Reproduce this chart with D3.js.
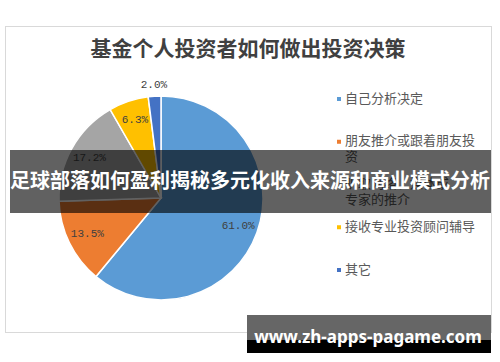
<!DOCTYPE html>
<html>
<head>
<meta charset="utf-8">
<script src="https://cdn.jsdelivr.net/npm/d3@7"></script>
<style>
  body { margin: 0; background: #fff; }
  svg { display: block; }
</style>
</head>
<body>
<div id="chart"></div>
<script>
const categories = [
  "自己分析决定",
  "朋友推介或跟着朋友投资",
  "听取网络、媒体或专家的推介",
  "接收专业投资顾问辅导",
  "其它",
];
const values = [61.0, 13.5, 17.2, 6.3, 2.0];
const valueLabels = ["61.0%", "13.5%", "17.2%", "6.3%", "2.0%"];
const legendLines = [
  ["自己分析决定"],
  ["朋友推介或跟着朋友投", "资"],
  ["听取网络、媒体或", "专家的推介"],
  ["接收专业投资顾问辅导"],
  ["其它"],
];
const colors = ["#5b9bd5", "#ed7d31", "#a5a5a5", "#ffc000", "#4472c4"];

const title = "基金个人投资者如何做出投资决策";
const bannerText = "足球部落如何盈利揭秘多元化收入来源和商业模式分析";
const watermark = "www.zh-apps-pagame.com";

const width = 500;
const height = 362;
const cx = 161;
const cy = 198;
const radius = 102;

const svg = d3
  .select("#chart")
  .append("svg")
  .attr("width", width)
  .attr("height", height);

// chart frame
svg
  .append("rect")
  .attr("x", 5.5)
  .attr("y", 26.5)
  .attr("width", 486)
  .attr("height", 306)
  .attr("fill", "#fff")
  .attr("stroke", "#d9d9d9");

svg
  .append("text")
  .attr("x", 248)
  .attr("y", 50)
  .attr("text-anchor", "middle")
  .attr("dominant-baseline", "middle")
  .attr("font-family", "'Noto Sans CJK SC', sans-serif")
  .attr("font-weight", "bold")
  .attr("font-size", 21)
  .attr("fill", "#404040")
  .text(title);

const pie = d3
  .pie()
  .sort(null)
  .value((d) => d);

const arcs = pie(values);

const arc = d3.arc().innerRadius(0).outerRadius(radius);
const labelArc = d3.arc().innerRadius(82).outerRadius(82);
const outerLabelArc = d3.arc().innerRadius(113).outerRadius(113);

const pieG = svg.append("g").attr("transform", `translate(${cx},${cy})`);

pieG
  .selectAll("path")
  .data(arcs)
  .join("path")
  .attr("d", arc)
  .attr("fill", (d, i) => colors[i])
  .attr("stroke", "#fff")
  .attr("stroke-width", 1.5);

pieG
  .selectAll("text")
  .data(arcs)
  .join("text")
  .attr("transform", (d) => {
    let c = d.data < 3 ? outerLabelArc.centroid(d) : labelArc.centroid(d);
    return `translate(${c[0]},${c[1]})`;
  })
  .attr("text-anchor", "middle")
  .attr("dominant-baseline", "middle")
  .attr("font-family", "'Liberation Mono', monospace")
  .attr("font-size", 11)
  .attr("fill", "#404040")
  .text((d, i) => valueLabels[i]);

// legend
const legendY = d3
  .scalePoint()
  .domain(categories)
  .range([99, 270]);

const legend = svg
  .append("g")
  .selectAll("g")
  .data(categories)
  .join("g")
  .attr("transform", (d) => `translate(339,${legendY(d)})`);

legend
  .append("rect")
  .attr("x", -2)
  .attr("y", -2)
  .attr("width", 4)
  .attr("height", 4)
  .attr("fill", (d, i) => colors[i]);

legend
  .append("text")
  .attr("x", 6)
  .attr("font-family", "'Noto Sans CJK SC', sans-serif")
  .attr("font-size", 13)
  .attr("fill", "#595959")
  .selectAll("tspan")
  .data((d, i) => legendLines[i])
  .join("tspan")
  .attr("x", 6)
  .attr("y", (d, j) => j * 16)
  .attr("dominant-baseline", "middle")
  .text((d) => d);

// overlay banner
svg
  .append("rect")
  .attr("x", 10)
  .attr("y", 150)
  .attr("width", 481)
  .attr("height", 63)
  .attr("fill", "rgba(0,0,0,0.62)");

svg
  .append("text")
  .attr("x", 250)
  .attr("y", 183)
  .attr("text-anchor", "middle")
  .attr("dominant-baseline", "middle")
  .attr("font-family", "'Noto Sans CJK SC', sans-serif")
  .attr("font-weight", "bold")
  .attr("font-size", 20)
  .attr("fill", "#fff")
  .text(bannerText);

// watermark
svg
  .append("rect")
  .attr("x", 247)
  .attr("y", 315)
  .attr("width", 244)
  .attr("height", 25)
  .attr("fill", "#666");

svg
  .append("rect")
  .attr("x", 247)
  .attr("y", 340)
  .attr("width", 244)
  .attr("height", 13)
  .attr("fill", "#000");

svg
  .append("text")
  .attr("x", 368)
  .attr("y", 343)
  .attr("text-anchor", "middle")
  .attr("font-family", "'Noto Sans', sans-serif")
  .attr("font-weight", "bold")
  .attr("font-size", 17)
  .attr("fill", "#fff")
  .text(watermark);
</script>
</body>
</html>
